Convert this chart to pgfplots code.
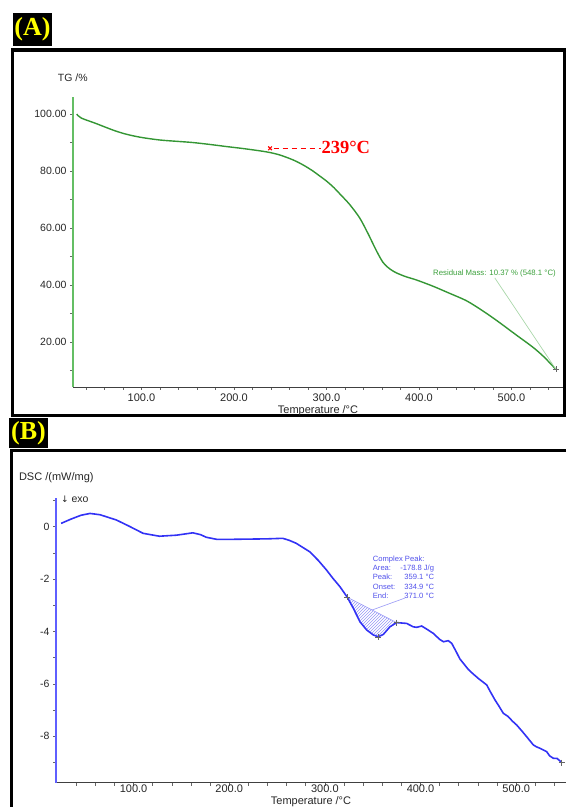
\documentclass[border=0pt]{standalone}
\usepackage{fontspec}
\setmainfont{Liberation Sans}
\newfontfamily\timesf{Liberation Serif}
\newfontfamily\dejavu{DejaVu Sans}
\usepackage{pgfplots}
\pgfplotsset{compat=1.18}
\usetikzlibrary{patterns}
\definecolor{tggreen}{RGB}{52,150,52}
\definecolor{tgaxis}{RGB}{100,190,100}
\definecolor{tgtext}{RGB}{60,160,60}
\definecolor{tglight}{RGB}{170,215,170}
\definecolor{dscblue}{RGB}{50,50,245}
\definecolor{dscaxis}{RGB}{95,95,255}
\definecolor{dsctext}{RGB}{80,80,235}
\definecolor{dsclight}{RGB}{150,150,245}
\definecolor{labyellow}{RGB}{255,255,0}

\pgfplotstableread{
T v
30 100.0
35 98.6
50 96.8
70 94.3
84 92.9
100 91.8
120 90.9
140 90.4
156 90.0
175 89.3
192 88.6
210 87.9
228 87.1
239 86.5
250 85.6
264 83.9
275 82.1
285 80.1
293 78.2
300 76.5
308 74.2
315 71.8
325 68.3
336 63.5
345 58.0
351 54.0
356 50.8
361 48.0
366 46.3
371 45.1
376 44.2
386 42.9
397 41.8
415 39.6
433 37.1
450 34.7
462 32.4
475 29.6
488 26.6
505 22.5
523 18.2
535 14.8
548.1 10.37
}\tgdata

\pgfplotstableread{
T v
24.2 0.13
35 0.30
45 0.44
54.5 0.51
65 0.46
82 0.26
95 0.03
110 -0.25
127 -0.36
145 -0.32
162 -0.23
170 -0.30
176 -0.40
187 -0.48
200 -0.48
221 -0.47
240 -0.46
256 -0.44
263 -0.52
270 -0.63
284 -0.95
293 -1.28
301.7 -1.65
308 -1.95
315.8 -2.29
323.4 -2.69
329.7 -3.11
336.7 -3.63
343.7 -3.94
350.6 -4.13
355.8 -4.20
361.1 -4.11
368 -3.82
375 -3.66
385.5 -3.69
392.4 -3.82
396 -3.84
401.2 -3.79
407 -3.92
413.3 -4.07
420 -4.30
424 -4.39
429 -4.35
432.6 -4.45
437 -4.75
441.2 -5.05
450 -5.45
455 -5.62
460.4 -5.79
469.2 -6.04
473 -6.30
477.8 -6.61
482 -6.85
486.5 -7.12
491.7 -7.25
496 -7.42
500.5 -7.57
506 -7.80
511 -8.02
517.9 -8.33
521 -8.40
524.9 -8.46
531.9 -8.59
535 -8.75
538.8 -8.84
543 -8.85
547.6 -9.01
}\dscdata

\pgfplotstableread{
T v
323.4 -2.69
329.7 -3.11
336.7 -3.63
343.7 -3.94
350.6 -4.13
355.8 -4.20
361.1 -4.11
368 -3.82
375 -3.66
323.4 -2.69
}\peakarea

\begin{document}
\begin{tikzpicture}[x=1pt,y=1pt]
\useasboundingbox (0pt,0pt) rectangle (566pt,807pt);
% panel frames
\draw[line width=3.5pt] (566pt,757.2pt) -- (12.3pt,757.2pt) -- (12.3pt,391.5pt) -- (566pt,391.5pt);
\draw[line width=3.5pt] (564.3pt,757.2pt) -- (564.3pt,391.5pt);
\draw[line width=3.5pt] (566pt,356.5pt) -- (11.5pt,356.5pt) -- (11.5pt,0pt);
% panel labels
\fill[black] (13pt,761pt) rectangle (52pt,794pt);
\node[text=labyellow, font=\timesf\bfseries\fontsize{26}{26}\selectfont, inner sep=0] at (32.5pt,777.5pt) {(A)};
\fill[black] (9pt,359pt) rectangle (48pt,389pt);
\node[text=labyellow, font=\timesf\bfseries\fontsize{26}{26}\selectfont, inner sep=0] at (28.5pt,374pt) {(B)};

% ---------- TG ----------
\begin{axis}[
  at={(73pt,420pt)}, anchor=south west, scale only axis,
  width=490pt, height=290pt,
  xmin=26, xmax=555.7, ymin=4.2, ymax=106,
  axis x line*=bottom, axis y line*=left, separate axis lines,
  x axis line style={black!75, line width=0.9pt, -},
  y axis line style={tgaxis, line width=1.1pt, -},
  xtick={100,200,300,400,500}, minor xtick={40,60,...,540},
  ytick={20,40,60,80,100}, minor ytick={10,30,50,70,90},
  tick align=outside, major tick length=3pt, minor tick length=3pt,
  tick style={black!60, line width=0.6pt},
  /pgf/number format/assume math mode=true,
  x tick label style={/pgf/number format/.cd, fixed, fixed zerofill, precision=1, /tikz/.cd, font=\fontsize{11}{12}\selectfont, text=black!85},
  y tick label style={/pgf/number format/.cd, fixed, fixed zerofill, precision=2, /tikz/.cd, font=\fontsize{10.5}{12}\selectfont, text=black!85},
]
\addplot[tggreen, line width=1.4pt, smooth, tension=0.5] table[x=T, y=v] {\tgdata};
\addplot[only marks, mark=x, red, mark size=2.6pt, line width=1.1pt] coordinates {(239,88.0)};
\draw[red, line width=1.2pt, dash pattern=on 5pt off 4pt] (axis cs:243,88) -- (axis cs:294,88);
\node[red, anchor=west, font=\timesf\bfseries\fontsize{18.5}{20}\selectfont, inner sep=0] at (axis cs:294.5,88.3) {239°C};
\draw[tglight, line width=0.7pt] (axis cs:482,42.5) -- (axis cs:548.1,10.37);
\node[anchor=west, text=tgtext, font=\fontsize{7.8}{9}\selectfont, inner sep=0] at (axis cs:415.2,43.9) {Residual Mass: 10.37 \% (548.1 °C)};
\addplot[only marks, mark=+, black!60, mark size=3pt, line width=0.5pt] coordinates {(548.1,10.37)};
\end{axis}
\node[font=\fontsize{10.5}{12}\selectfont, text=black!85] at (72.8pt,729.7pt) {TG /\%};
\node[font=\fontsize{11}{12}\selectfont, text=black!85] at (318pt,396.5pt) {Temperature /°C};

% ---------- DSC ----------
\begin{axis}[
  at={(56pt,24.4pt)}, anchor=south west, scale only axis,
  width=510pt, height=284.6pt,
  xmin=18.9, xmax=552.1, ymin=-9.77, ymax=1.10,
  axis x line*=bottom, axis y line*=left, separate axis lines,
  x axis line style={black!75, line width=0.9pt, -},
  y axis line style={dscaxis, line width=1.1pt, -},
  xtick={100,200,300,400,500}, minor xtick={40,60,...,540},
  ytick={-8,-6,-4,-2,0}, minor ytick={-9,-7,-5,-3,-1,1},
  tick align=outside, major tick length=3pt, minor tick length=3pt,
  tick style={black!60, line width=0.6pt},
  /pgf/number format/assume math mode=true,
  x tick label style={/pgf/number format/.cd, fixed, fixed zerofill, precision=1, /tikz/.cd, font=\fontsize{11}{12}\selectfont, text=black!85, yshift=4pt},
  y tick label style={font=\fontsize{10.5}{12}\selectfont, text=black!85},
]
\addplot[draw=none, pattern=north east lines, pattern color=dsclight] table[x=T, y=v] {\peakarea};
\draw[dsclight, line width=0.6pt] (axis cs:323.4,-2.69) -- (axis cs:375,-3.66);
\addplot[dscblue, line width=1.6pt] table[x=T, y=v] {\dscdata};
\addplot[only marks, mark=+, black!60, mark size=3pt, line width=0.5pt] coordinates {(323.4,-2.69) (355.8,-4.20) (375,-3.66) (547.6,-9.01)};
\draw[dsclight, line width=0.6pt] (axis cs:383.8,-2.72) -- (axis cs:349.2,-3.18);
\end{axis}
\node[font=\fontsize{11}{12}\selectfont, text=black!85] at (56.3pt,329.3pt) {DSC /(mW/mg)};
\node[anchor=west, font=\fontsize{10.5}{12}\selectfont, text=black!85, inner sep=0] at (61pt,308pt) {{\dejavu\fontsize{9}{10}\selectfont ↓} exo};
\node[anchor=north west, inner sep=0, text=dsctext, font=\fontsize{7.6}{9.3}\selectfont] at (372.7pt,252.5pt) {%
\begin{tabular}{@{}l@{\hspace{5pt}}r@{}}
\multicolumn{2}{@{}l}{Complex Peak:}\\
Area: & -178.8 J/g\\
Peak: & 359.1 °C\\
Onset: & 334.9 °C\\
End: & 371.0 °C
\end{tabular}};
\node[font=\fontsize{11}{12}\selectfont, text=black!85] at (311pt,5pt) {Temperature /°C};
\end{tikzpicture}
\end{document}
